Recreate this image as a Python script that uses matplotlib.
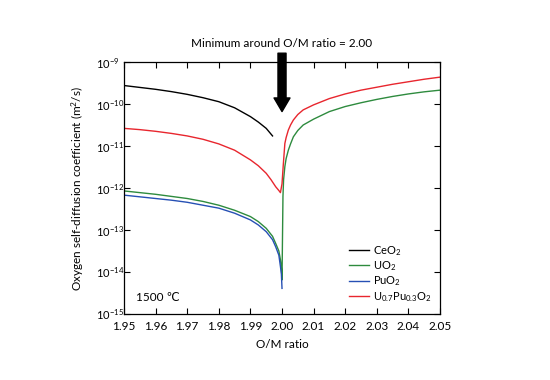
import matplotlib
matplotlib.use('Agg')
import matplotlib.pyplot as plt
import numpy as np

plt.rcParams['font.family'] = ['Lato', 'DejaVu Sans']
plt.rcParams['mathtext.fontset'] = 'custom'
plt.rcParams['mathtext.rm'] = 'Lato'
plt.rcParams['mathtext.default'] = 'regular'

# values, log10 of D (m^2/s)
ceo2_x = [1.95, 1.955, 1.96, 1.965, 1.97, 1.975, 1.98, 1.985, 1.99, 1.9925, 1.995, 1.997]
ceo2_log = [-9.56, -9.605, -9.65, -9.705, -9.77, -9.85, -9.945, -10.09, -10.30, -10.43, -10.58, -10.76]

uo2_x = [1.95, 1.955, 1.96, 1.965, 1.97, 1.975, 1.98, 1.985, 1.99, 1.9925, 1.995, 1.997,
         1.998, 1.999, 1.9995, 1.9998, 2.0,
         2.0003, 2.0005, 2.0009, 2.0013, 2.002, 2.0027, 2.0036, 2.005, 2.0067, 2.01,
         2.015, 2.02, 2.025, 2.03, 2.035, 2.04, 2.045, 2.05]
uo2_log = [-12.07, -12.11, -12.15, -12.20, -12.25, -12.32, -12.41, -12.53, -12.68, -12.80, -12.96, -13.15,
           -13.32, -13.50, -13.71, -13.90, -14.19,
           -12.20, -11.80, -11.49, -11.30, -11.10, -10.95, -10.78, -10.63, -10.50, -10.36,
           -10.18, -10.06, -9.97, -9.89, -9.82, -9.76, -9.71, -9.67]

puo2_x = [1.95, 1.955, 1.96, 1.965, 1.97, 1.975, 1.98, 1.985, 1.99, 1.9925, 1.995, 1.997,
          1.998, 1.999, 1.9995, 1.9998, 2.0]
puo2_log = [-12.17, -12.21, -12.25, -12.29, -12.34, -12.41, -12.48, -12.60, -12.76, -12.88, -13.04, -13.23,
            -13.40, -13.60, -13.87, -14.05, -14.39]

mox_x = [1.95, 1.955, 1.96, 1.965, 1.97, 1.975, 1.98, 1.985, 1.99, 1.9925, 1.995, 1.9965,
         1.998, 1.999, 1.9995, 2.0, 2.0004, 2.0009, 2.0013, 2.002, 2.0027, 2.0036, 2.005,
         2.0067, 2.01, 2.015, 2.02, 2.025, 2.03, 2.035, 2.04, 2.045, 2.05]
mox_log = [-10.58, -10.61, -10.65, -10.70, -10.76, -10.84, -10.95, -11.10, -11.33, -11.47, -11.65, -11.80,
           -11.97, -12.06, -12.11, -11.90, -11.45, -10.94, -10.80, -10.62, -10.50, -10.38, -10.25,
           -10.14, -10.02, -9.87, -9.76, -9.67, -9.60, -9.53, -9.47, -9.41, -9.36]

series = [
    (ceo2_x, ceo2_log, 'black', 'CeO$_2$'),
    (uo2_x, uo2_log, '#2e8b3e', 'UO$_2$'),
    (puo2_x, puo2_log, '#2650b4', 'PuO$_2$'),
    (mox_x, mox_log, '#e8262e', 'U$_{0.7}$Pu$_{0.3}$O$_2$'),
]

fig = plt.figure(figsize=(5.5, 3.8), dpi=100)
ax = fig.add_axes([0.2255, 0.1737, 0.5745, 0.6631])

for xs, ys, col, lab in series:
    ax.plot(xs, 10.0 ** np.array(ys), color=col, lw=1.0, label=lab)

ax.set_yscale('log')
ax.set_xlim(1.95, 2.05)
ax.set_ylim(1e-15, 1e-9)
ax.set_xticks(np.arange(1.95, 2.051, 0.01))
ax.set_xticklabels(['%.2f' % v for v in np.arange(1.95, 2.051, 0.01)])
ax.set_yticks([1e-15, 1e-14, 1e-13, 1e-12, 1e-11, 1e-10, 1e-9])
ax.minorticks_off()
ax.tick_params(direction='in', top=True, right=True, length=4, width=0.8,
               labelsize=8.5)
ax.tick_params(axis='x', pad=5)
ax.tick_params(axis='y', pad=20, labelsize=8)
for lab in ax.get_yticklabels():
    lab.set_ha('left')
for s in ax.spines.values():
    s.set_linewidth(0.9)

ax.set_xlabel('O/M ratio', fontsize=8.5, labelpad=5)
ax.set_ylabel('Oxygen self-diffusion coefficient (m$^2$/s)', fontsize=8.5)
ax.yaxis.set_label_coords(-0.146, 0.5)
ax.yaxis.label.set_va('center')

ax.text(1.9537, 10 ** -14.6, '1500 ℃', fontsize=8.5, va='center')

ax.legend(loc='lower left', bbox_to_anchor=(0.712, 0.04), frameon=False,
          fontsize=8, handlelength=1.8, handletextpad=0.36, labelspacing=0.15,
          borderpad=0, borderaxespad=0)

# arrow + annotation above the plot
ax.annotate('', xy=(2.0, 10 ** -10.18), xytext=(2.0, 10 ** -8.79),
            arrowprops=dict(facecolor='black', edgecolor='black', width=5.8,
                            headwidth=11.5, headlength=9.8, shrink=0),
            annotation_clip=False)
ax.text(2.0, 10 ** -8.55, 'Minimum around O/M ratio = 2.00', ha='center',
        va='center', fontsize=8.5, clip_on=False)

fig.savefig('out.png', dpi=100)
